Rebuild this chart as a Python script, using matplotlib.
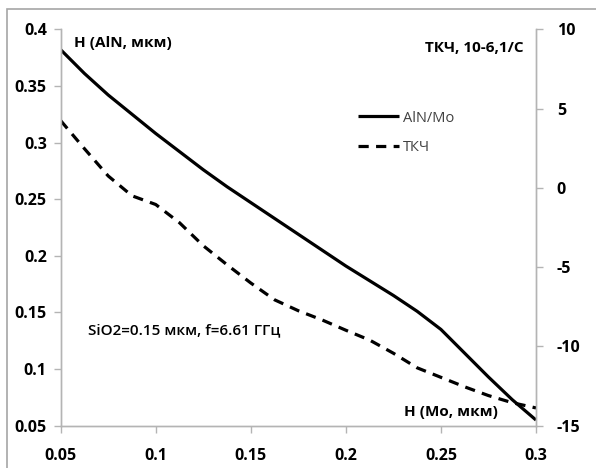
import matplotlib
matplotlib.use('Agg')
import matplotlib.pyplot as plt
from matplotlib.ticker import FuncFormatter, MultipleLocator
from matplotlib.patches import Rectangle

plt.rcParams['font.family'] = ['Open Sans', 'DejaVu Sans']

# толщина Mo, мкм
h_mo = [0.05, 0.0625, 0.075, 0.0875, 0.1, 0.1125, 0.125, 0.1375, 0.15, 0.1625, 0.175,
        0.1875, 0.2, 0.2125, 0.225, 0.2375, 0.25, 0.2625, 0.275, 0.2875, 0.3]
# толщина AlN, мкм (левая ось)
h_aln = [0.382, 0.361, 0.342, 0.325, 0.308, 0.292, 0.276, 0.261, 0.247, 0.233, 0.219,
         0.205, 0.191, 0.178, 0.165, 0.151, 0.135, 0.114, 0.093, 0.073, 0.055]
# ТКЧ, 10-6 1/C (правая ось)
tkch = [4.24, 2.47, 0.75, -0.5, -1.05, -2.2, -3.65, -4.85, -6.0, -7.06, -7.75,
        -8.33, -8.98, -9.6, -10.43, -11.35, -11.95, -12.55, -13.1, -13.55, -13.88]

fig = plt.figure(figsize=(5.96, 4.68), dpi=100)
ax = fig.add_axes([0.1018, 0.0904, 0.7975, 0.847])
ax2 = ax.twinx()

l1, = ax.plot(h_mo, h_aln, color='black', lw=2.3, solid_capstyle='butt',
              solid_joinstyle='round', label='AlN/Mo')
l2, = ax2.plot(h_mo, tkch, color='black', lw=2.3, dashes=(3.2, 2.3), dash_capstyle='butt',
               label='ТКЧ')

ax.set_xlim(0.05, 0.3)
ax.set_ylim(0.05, 0.4)
ax2.set_ylim(-15, 10)
ax.xaxis.set_major_locator(MultipleLocator(0.05))
ax.yaxis.set_major_locator(MultipleLocator(0.05))
ax2.yaxis.set_major_locator(MultipleLocator(5))
fmt = FuncFormatter(lambda v, p: '%g' % round(v, 3))
ax.xaxis.set_major_formatter(fmt)
ax.yaxis.set_major_formatter(fmt)
ax2.yaxis.set_major_formatter(fmt)

axis_col = '#b4b4b4'
for a in (ax, ax2):
    for s in a.spines.values():
        s.set_color(axis_col)
        s.set_linewidth(1)
    a.spines['top'].set_visible(False)
    a.tick_params(colors=axis_col, labelcolor='black', length=5, width=1,
                  labelsize=11.5)
ax.tick_params(axis='y', pad=5)
ax.tick_params(axis='x', pad=11)
ax2.tick_params(axis='y', pad=10)
for lab in ax.get_xticklabels() + ax.get_yticklabels() + ax2.get_yticklabels():
    lab.set_fontweight('bold')

ax.text(0.028, 0.9654, 'H (AlN, мкм)', transform=ax.transAxes, fontsize=11,
        fontweight='bold', ha='left', va='center')
ax.text(0.9748, 0.9528, 'ТКЧ, 10-6,1/С', transform=ax.transAxes, fontsize=11,
        fontweight='bold', ha='right', va='center')
ax.text(0.0574, 0.2397, 'SiO2=0.15 мкм, f=6.61 ГГц', transform=ax.transAxes, fontsize=11,
        fontweight='semibold', ha='left', va='center')
ax.text(0.7223, 0.0353, 'H (Mo, мкм)', transform=ax.transAxes, fontsize=11,
        fontweight='bold', ha='left', va='center')

leg = ax.legend([l1, l2], ['AlN/Mo', 'ТКЧ'], loc='upper left',
                bbox_to_anchor=(0.6249, 0.795), frameon=False, fontsize=10.5,
                handlelength=2.8, handletextpad=0.3, labelspacing=1.0, borderpad=0,
                borderaxespad=0)
for t in leg.get_texts():
    t.set_color('#404040')

# рамка области диаграммы
fig.patches.append(Rectangle((7 / 596, -0.5), 1.2, 0.5 + 1 - 9 / 468, transform=fig.transFigure,
                             fill=False, edgecolor='#a6a6a6', lw=1.2))

fig.savefig('out.png', dpi=100, facecolor='white')
